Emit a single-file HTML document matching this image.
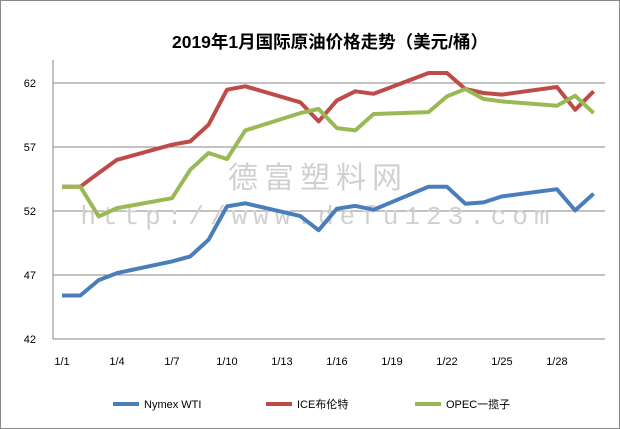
<!DOCTYPE html>
<html><head><meta charset="utf-8"><style>
html,body{margin:0;padding:0;background:#fff;}
svg{display:block;font-family:"Liberation Sans","Noto Sans CJK SC",sans-serif;}
</style></head><body>
<svg id="chart" width="620" height="429">
<rect x="0.5" y="0.5" width="619" height="428" fill="#fff" stroke="#888"/>
<text x="330" y="48" text-anchor="middle" font-size="17.5" font-weight="bold" fill="#000">2019年1月国际原油价格走势（美元/桶）</text>
<g id="grid"></g>
<text x="318" y="188" text-anchor="middle" font-size="30" fill="#d0d0d0" letter-spacing="6">德富塑料网</text>
<text x="318" y="224" text-anchor="middle" font-size="26" fill="#d0d0d0" font-family="Liberation Mono, monospace" letter-spacing="6">http://www.defu123.com</text>
<g id="series"></g>
<g id="legend"></g>
</svg>
<script>
const dates=[1,2,3,4,7,8,9,10,11,14,15,16,17,18,21,22,23,24,25,28,29,30];
const wti=[45.4,45.4,46.6,47.15,48.06,48.45,49.76,52.36,52.6,51.6,50.5,52.18,52.4,52.1,53.9,53.9,52.57,52.67,53.14,53.7,52.05,53.35];
const brent=[53.9,53.9,54.97,56.0,57.18,57.44,58.74,61.48,61.74,60.49,59.0,60.64,61.35,61.16,62.78,62.78,61.53,61.22,61.09,61.69,59.91,61.35];
const opec=[53.9,53.9,51.58,52.23,53.0,55.23,56.53,56.06,58.3,59.65,59.97,58.48,58.3,59.58,59.73,60.95,61.53,60.75,60.56,60.23,61.0,59.65];
const yTicks=[42,47,52,57,62];
const xTicks=["1/1","1/4","1/7","1/10","1/13","1/16","1/19","1/22","1/25","1/28"];
const xTickDays=[1,4,7,10,13,16,19,22,25,28];
const seriesNames=["Nymex WTI","ICE布伦特","OPEC一揽子"];
const colors=["#4a7ebb","#be4b48","#98b954"];
const NS="http://www.w3.org/2000/svg";
const X=d=>62+(d-1)*18.33;
const Y=v=>339-(v-42)*12.8;
function mk(tag,attrs,parent){const e=document.createElementNS(NS,tag);for(const k in attrs)e.setAttribute(k,attrs[k]);parent.appendChild(e);return e;}
const grid=document.getElementById('grid');
yTicks.forEach(t=>{
  if(t>42){const l=mk('line',{x1:53,x2:605,y1:Y(t),y2:Y(t),stroke:'#868686','stroke-width':1},grid);
  
  }
  const tx=mk('text',{x:36,y:Y(t)+4,'text-anchor':'end','font-size':11,fill:'#000'},grid);tx.textContent=t;
  
  
});
const ax=mk('line',{x1:53,x2:53,y1:60,y2:339,stroke:'#868686'},grid);


const bx=mk('line',{x1:53,x2:605,y1:339,y2:339,stroke:'#868686'},grid);


xTicks.forEach((t,i)=>{
  const tx=mk('text',{x:X(xTickDays[i]),y:365,'text-anchor':'middle','font-size':11,fill:'#000'},grid);tx.textContent=t;
  
  
});
const sg=document.getElementById('series');
[wti,brent,opec].forEach((vals,si)=>{
  const pts=vals.map((v,i)=>X(dates[i]).toFixed(1)+','+Y(v).toFixed(1)).join(' ');
  const p=mk('polyline',{points:pts,fill:'none',stroke:colors[si],'stroke-width':4,'stroke-linejoin':'round'},sg);
  
  
});
const lg=document.getElementById('legend');
const lx=[113,266,415];
seriesNames.forEach((n,i)=>{
  const l=mk('line',{x1:lx[i],x2:lx[i]+26,y1:404,y2:404,stroke:colors[i],'stroke-width':4},lg);
  
  
  const t=mk('text',{x:lx[i]+31,y:408,'font-size':11,fill:'#000'},lg);t.textContent=n;
  
  
});
</script>
</body></html>
